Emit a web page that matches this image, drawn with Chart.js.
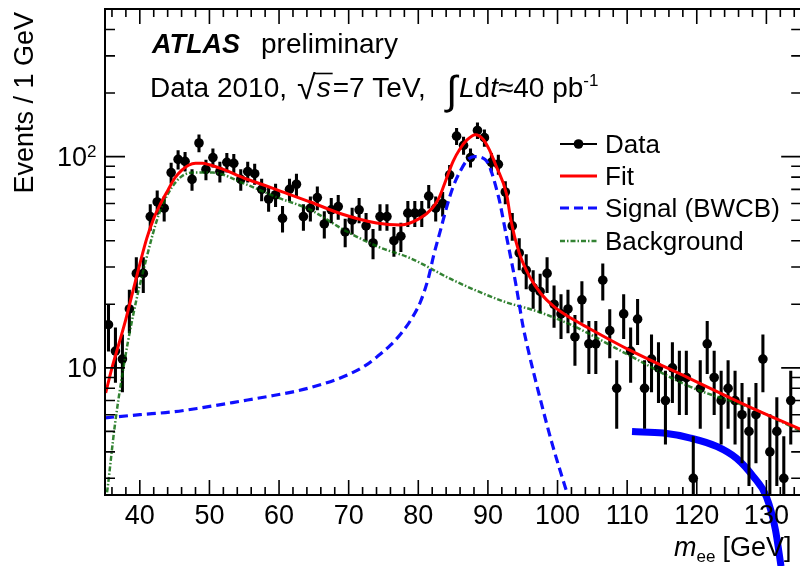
<!DOCTYPE html>
<html>
<head>
<meta charset="utf-8">
<script src="https://cdn.jsdelivr.net/npm/chart.js@4.4.1/dist/chart.umd.min.js"></script>
<style>
  html, body { margin: 0; padding: 0; background: #fff; overflow: hidden; }
  #wrap { width: 800px; height: 566px; overflow: hidden; position: relative; }
  canvas { display: block; }
</style>
</head>
<body>
<div id="wrap"><canvas id="mee" width="806" height="566"></canvas></div>
<script>
// m_ee spectrum, 1 GeV bins (bin centres)
var massBins = [35.5, 36.5, 37.5, 38.5, 39.5, 40.5, 41.5, 42.5, 43.5, 44.5,
  45.5, 46.5, 47.5, 48.5, 49.5, 50.5, 51.5, 52.5, 53.5, 54.5,
  55.5, 56.5, 57.5, 58.5, 59.5, 60.5, 61.5, 62.5, 63.5, 64.5,
  65.5, 66.5, 67.5, 68.5, 69.5, 70.5, 71.5, 72.5, 73.5, 74.5,
  75.5, 76.5, 77.5, 78.5, 79.5, 80.5, 81.5, 82.5, 83.5, 84.5,
  85.5, 86.5, 87.5, 88.5, 89.5, 90.5, 91.5, 92.5, 93.5, 94.5,
  95.5, 96.5, 97.5, 98.5, 99.5, 100.5, 101.5, 102.5, 103.5, 104.5,
  105.5, 106.5, 107.5, 108.5, 109.5, 110.5, 111.5, 112.5, 113.5, 114.5,
  115.5, 116.5, 117.5, 118.5, 119.5, 120.5, 121.5, 122.5, 123.5, 124.5,
  125.5, 126.5, 127.5, 128.5, 129.5, 130.5, 131.5, 132.5, 133.5];
var events = [16, 12, 11, 19, 28, 28, 52, 61, 57, 84,
  97, 95, 78, 116, 87, 99, 85, 94, 93, 78,
  85, 83, 70, 63, 66, 51, 70, 74, 52, 57,
  64, 48, 56, 58, 44, 50, 56, 47, 39, 52,
  52, 40, 42, 54, 54, 54, 65, 57, 60, 82,
  125, 113, 99, 133, 123, 94, 92, 68, 47, 35,
  29, 24, 23, 28, 20, 18, 19, 14, 21, 13,
  13, 26, 15, 8, 18, 12, 17, 8, 11, 10,
  7, 10, 9, 9, 3, 8, 13, 9, 7, 8,
  7, 6, 5, 6, 11, 4, 5, 3, 7];

// curves
var fitMass = [35.1, 36, 37, 38, 39, 40, 41, 42, 43, 44, 45, 46, 47, 48, 49, 50, 52, 55, 58, 60,
  64.5, 69, 74, 77.5, 80.2, 82, 83, 84, 85, 86, 87, 88.2, 89.3, 90.2, 91.2, 92.7, 93.3, 94.5,
  96, 97.6, 99.5, 101.9, 104.5, 110, 119, 128.6, 135];
var fitValue = [7.6, 10, 13, 17, 23, 31, 41, 51, 60, 69, 79, 86, 91, 93, 93, 91.5, 87, 79, 73, 69,
  61, 53.5, 48.5, 47.5, 51, 57, 64, 78, 95, 109, 120, 127, 121, 108, 90, 66, 50, 35,
  27, 22.5, 19.5, 17.2, 15.4, 12.3, 8.9, 6.3, 5.1];

var signalMass = [35, 40, 45, 48.6, 55, 58.2, 62, 65.3, 69.3, 72.5, 74.1, 76, 77.5, 79, 80.3,
  81.5, 82.2, 83.2, 84.1, 85, 86, 87, 88, 89.6, 91.5, 92.6, 93.3, 94, 94.5, 95, 95.9, 97.3,
  99.2, 101.1, 102, 103];
var signalValue = [5.8, 6.0, 6.2, 6.45, 7.0, 7.3, 7.7, 8.2, 9.1, 10.3, 11.3, 12.8, 14.5, 17, 20.5,
  27, 34, 45, 58, 72, 85, 96, 100, 97, 65, 43, 33, 25, 20, 16, 11.7, 7.6,
  4.4, 2.73, 2.2, 1.7];

var bkgMass = [35.1, 35.4, 36.4, 37.6, 39, 40.9, 42.8, 45.2, 47.6, 50.5, 54.8, 59.8, 64.5, 69.3,
  74.1, 78.9, 85, 92.3, 97.1, 101.9, 110, 119, 128.6, 135];
var bkgValue = [2.3, 2.74, 5.3, 9.8, 17.5, 32.5, 54, 76, 84, 84, 75, 64, 56, 45,
  37.6, 33, 26, 20.6, 18.5, 16, 11.6, 8.15, 6.3, 5.0];

// thick blue stroke in the lower right corner
var arcMass = [110.7, 115.2, 119.1, 122.9, 125.7, 128.1, 130.0, 131.3, 132.1];
var arcValue = [4.99, 4.91, 4.65, 4.24, 3.73, 3.06, 2.45, 1.71, 1.15];

var xTickLabels = [40, 50, 60, 70, 80, 90, 100, 110, 120, 130];
var yTickLabels = [10, 100];

var FONT = '"Liberation Sans", Arial, Helvetica, sans-serif';

function pairs(xs, ys) {
  return xs.map(function (x, i) { return { x: x, y: ys[i] }; });
}

// Poisson errors, sqrt(N)
var errorBars = massBins.map(function (m, i) {
  var e = Math.sqrt(events[i]);
  return { x: m, y: [events[i] - e, events[i] + e] };
});

function drawRuns(c, x, y, runs) {
  runs.forEach(function (r) {
    c.font = r.font;
    c.fillText(r.t, x, y + (r.dy || 0));
    x += c.measureText(r.t).width + (r.gap || 0);
  });
  return x;
}

var atlasFrame = {
  id: 'atlasFrame',
  afterDraw: function (chart) {
    var c = chart.ctx, a = chart.chartArea;
    var xs = chart.scales.x, ys = chart.scales.y;
    c.save();
    c.strokeStyle = '#000';
    c.fillStyle = '#000';

    // frame
    c.lineWidth = 2;
    c.strokeRect(a.left, a.top, a.right - a.left, a.bottom - a.top);

    // inward ticks, ROOT style
    c.lineWidth = 1.6;
    c.beginPath();
    for (var m = 36; m < 135; m += 2) {
      var px = xs.getPixelForValue(m);
      var len = (m % 10 === 0) ? 15 : 8;
      c.moveTo(px, a.bottom); c.lineTo(px, a.bottom - len);
      c.moveTo(px, a.top); c.lineTo(px, a.top + len);
    }
    for (var dec = 1; dec <= 100; dec *= 10) {
      for (var k = 1; k <= 9; k++) {
        var v = k * dec;
        if (v < ys.min || v > ys.max) continue;
        var py = ys.getPixelForValue(v);
        var tl = (k === 1) ? 20 : 10;
        c.moveTo(a.left, py); c.lineTo(a.left + tl, py);
        c.moveTo(a.right, py); c.lineTo(a.right - tl, py);
      }
    }
    c.stroke();

    // tick labels
    c.font = '27px ' + FONT;
    c.textAlign = 'center';
    c.textBaseline = 'alphabetic';
    xTickLabels.forEach(function (t) {
      c.fillText(String(t), xs.getPixelForValue(t), 524);
    });
    yTickLabels.forEach(function (t) {
      var py = ys.getPixelForValue(t) + 9.5;
      c.textAlign = 'right';
      if (t === 100) {
        c.font = '27px ' + FONT;
        c.fillText('10', 87, py);
        c.textAlign = 'left';
        c.font = '17px ' + FONT;
        c.fillText('2', 87, py - 9);
      } else {
        c.font = '27px ' + FONT;
        c.fillText('10', 97, py);
      }
    });

    // axis titles
    c.save();
    c.translate(33, 12);
    c.rotate(-Math.PI / 2);
    c.textAlign = 'right';
    c.font = '27px ' + FONT;
    c.fillText('Events / 1 GeV', 0, 0);
    c.restore();

    c.textAlign = 'left';
    drawRuns(c, 674, 556, [
      { t: 'm', font: 'italic 27px ' + FONT },
      { t: 'ee', font: '17px ' + FONT, dy: 6, gap: 7 },
      { t: '[GeV]', font: '27px ' + FONT }
    ]);

    // header
    drawRuns(c, 152, 53, [
      { t: 'ATLAS', font: 'italic bold 27px ' + FONT, gap: 21 },
      { t: 'preliminary', font: '28px ' + FONT }
    ]);
    drawRuns(c, 150, 97, [{ t: 'Data 2010,', font: '28px ' + FONT }]);
    var rootEnd = drawRuns(c, 297, 99, [{ t: '\u221A', font: '34px ' + FONT }]);
    c.font = 'italic 28px ' + FONT;
    var sw = c.measureText('s').width;
    c.lineWidth = 1.6;
    c.beginPath(); c.moveTo(rootEnd - 1.5, 73.5); c.lineTo(rootEnd + sw + 3, 73.5); c.stroke();
    drawRuns(c, rootEnd + 1, 97, [{ t: 's', font: 'italic 28px ' + FONT }]);
    drawRuns(c, rootEnd + sw + 3, 97, [{ t: '=7 TeV,', font: '28px ' + FONT }]);
    drawRuns(c, 446, 104, [{ t: '\u222B', font: '40px ' + FONT }]);
    drawRuns(c, 459, 97, [
      { t: 'L', font: 'italic 28px ' + FONT },
      { t: 'd', font: '28px ' + FONT },
      { t: 't', font: 'italic 28px ' + FONT },
      { t: '\u224840 pb', font: '28px ' + FONT },
      { t: '-1', font: '17px ' + FONT, dy: -11 }
    ]);

    // legend
    var items = [
      { label: 'Data', ds: 3, y: 144 },
      { label: 'Fit', ds: 0, y: 176 },
      { label: 'Signal (BWCB)', ds: 1, y: 208 },
      { label: 'Background', ds: 2, y: 241 }
    ];
    items.forEach(function (it) {
      var d = chart.data.datasets[it.ds];
      c.save();
      c.strokeStyle = it.ds === 3 ? '#000' : d.borderColor;
      c.lineWidth = it.ds === 3 ? 2 : d.borderWidth;
      c.setLineDash(d.borderDash || []);
      c.beginPath(); c.moveTo(560, it.y); c.lineTo(597, it.y); c.stroke();
      if (it.ds === 3) {
        c.beginPath(); c.arc(578.5, it.y, 4.8, 0, Math.PI * 2); c.fill();
      }
      c.restore();
      c.font = '26px ' + FONT;
      c.textAlign = 'left';
      c.fillText(it.label, 605, it.y + 9);
    });
    c.restore();
  }
};

var ctx = document.getElementById('mee').getContext('2d');
var meeChart = new Chart(ctx, {
  type: 'line',
  data: {
    datasets: [{
      label: 'Fit',
      data: pairs(fitMass, fitValue),
      borderColor: '#ff0000',
      borderWidth: 3,
      pointRadius: 0,
      cubicInterpolationMode: 'monotone'
    }, {
      label: 'Signal (BWCB)',
      data: pairs(signalMass, signalValue),
      borderColor: '#0f0fff',
      borderWidth: 3.2,
      borderDash: [9, 5],
      pointRadius: 0,
      cubicInterpolationMode: 'monotone'
    }, {
      label: 'Background',
      data: pairs(bkgMass, bkgValue),
      borderColor: 'rgba(0,100,0,0.8)',
      borderWidth: 2.5,
      borderDash: [5, 2, 1.5, 2],
      pointRadius: 0,
      cubicInterpolationMode: 'monotone'
    }, {
      label: 'Data',
      data: pairs(massBins, events),
      showLine: false,
      pointRadius: 4.8,
      pointBackgroundColor: '#000',
      pointBorderColor: '#000',
      pointBorderWidth: 0
    }, {
      type: 'bar',
      label: 'errors',
      data: errorBars,
      backgroundColor: '#000',
      barThickness: 2.4,
      grouped: false
    }, {
      label: 'arc',
      data: pairs(arcMass, arcValue),
      borderColor: '#0000ff',
      borderWidth: 7,
      pointRadius: 0,
      cubicInterpolationMode: 'monotone',
      clip: false
    }]
  },
  options: {
    responsive: false,
    animation: false,
    devicePixelRatio: 1,
    layout: { padding: { left: 105, top: 9, right: 3, bottom: 71 } },
    plugins: { legend: { display: false }, tooltip: { enabled: false } },
    scales: {
      x: { type: 'linear', min: 35, max: 135, offset: false, display: false },
      y: { type: 'logarithmic', min: 2.5, max: 500, beginAtZero: false, display: false }
    }
  },
  plugins: [atlasFrame]
});
</script>
</body>
</html>
